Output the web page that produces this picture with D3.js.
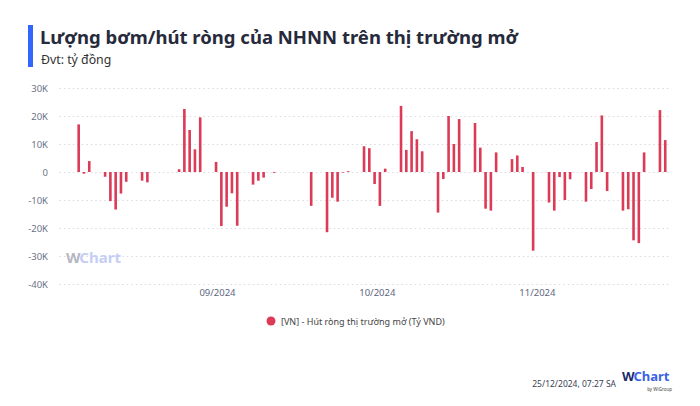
<!DOCTYPE html>
<html><head><meta charset="utf-8">
<script src="https://cdn.jsdelivr.net/npm/d3@7"></script>
<style>
html,body{margin:0;padding:0;background:#fff;}
svg{display:block;font-family:"Noto Sans","Open Sans",sans-serif;}
</style></head>
<body>
<svg id="chart" width="700" height="406"></svg>
<script>
// ---- data ----
const dates = [
"2024-09-04","2024-09-05","2024-09-06","2024-09-09","2024-09-10","2024-09-11","2024-09-12","2024-09-13",
"2024-09-16","2024-09-17","2024-09-23","2024-09-24","2024-09-25","2024-09-26","2024-09-27",
"2024-09-30","2024-10-01","2024-10-02","2024-10-03","2024-10-04","2024-10-07","2024-10-08","2024-10-09","2024-10-11",
"2024-10-18","2024-10-21","2024-10-22","2024-10-23","2024-10-24","2024-10-25",
"2024-10-28","2024-10-29","2024-10-30","2024-10-31","2024-11-01",
"2024-11-04","2024-11-05","2024-11-06","2024-11-07","2024-11-08",
"2024-11-11","2024-11-12","2024-11-13","2024-11-14","2024-11-15",
"2024-11-18","2024-11-19","2024-11-20","2024-11-21","2024-11-22",
"2024-11-25","2024-11-26","2024-11-27","2024-11-29",
"2024-12-02","2024-12-03","2024-12-04","2024-12-05","2024-12-06",
"2024-12-09","2024-12-10","2024-12-11","2024-12-12","2024-12-13",
"2024-12-16","2024-12-17","2024-12-18","2024-12-19","2024-12-20",
"2024-12-23","2024-12-24"];
const values = [
17000,-600,3900,-1700,-10400,-13400,-7700,-3500,
-3100,-3700,1000,22500,15000,8100,19500,
3600,-19300,-12400,-7600,-19200,-4500,-3100,-2000,-300,
-12100,-21500,-9200,-10600,-200,300,
9200,8500,-4300,-12100,1200,
23600,7900,14600,11700,7400,
-14500,-2500,20000,10000,18900,
17500,8700,-13100,-13800,7000,
4600,5900,1800,-28100,
-10900,-13800,-1800,-10000,-2600,
-10600,-6100,10700,20200,-6800,
-13800,-13300,-24400,-25400,7000,
22100,11400];
const yTicks = [30000,20000,10000,0,-10000,-20000,-30000,-40000];
const yTickLabels = ["30K","20K","10K","0","-10K","-20K","-30K","-40K"];
const xTickDates = ["2024-09-30T04:00Z","2024-10-30T10:00Z","2024-11-29T17:00Z"];
const xTickLabels = ["09/2024","10/2024","11/2024"];
const seriesName = "[VN] - Hút ròng thị trường mở (Tỷ VND)";
const title = "Lượng bơm/hút ròng của NHNN trên thị trường mở";
const subtitle = "Đvt: tỷ đồng";
const stamp = "25/12/2024, 07:27 SA";

// ---- layout ----
const svg = d3.select("#chart");
const color = "#db3b57";
const parse = s => new Date(s + (s.length===10 ? "T00:00:00Z" : ""));
const data = dates.map((d,i)=>({date:parse(d), value:values[i]}));

const x = d3.scaleUtc()
  .domain([new Date(Date.UTC(2024,7,31,8)), new Date(Date.UTC(2024,11,24,21,36))])
  .range([59.3, 670]);
const y = d3.scaleLinear().domain([-40000,30000]).range([284,88]);

// title block
svg.append("rect").attr("x",28).attr("y",25).attr("width",5).attr("height",42).attr("fill","#3366ff");
svg.append("text").attr("x",40).attr("y",44).attr("font-size",18.5).attr("font-weight",700)
  .attr("fill","#262a3b").text(title);
svg.append("text").attr("x",41).attr("y",64).attr("font-size",12.3).attr("fill","#333")
  .text(subtitle);

// grid + y axis
const yAxis = d3.axisLeft(y).tickValues(yTicks).tickSize(0).tickPadding(0)
  .tickFormat((d,i)=>yTickLabels[i]);
const gy = svg.append("g").attr("transform","translate(48,0)").call(yAxis);
gy.select(".domain").remove();
gy.selectAll("text").attr("font-size",9.5).attr("fill","#6b7385").attr("font-family","'Noto Sans',sans-serif");
svg.append("g").selectAll("line").data(yTicks).join("line")
  .attr("x1",59.3).attr("x2",670).attr("y1",d=>y(d)+0.5).attr("y2",d=>y(d)+0.5)
  .attr("stroke","#d8dbe0").attr("stroke-width",1).attr("stroke-dasharray","1.5,3");

// watermark
const wm = svg.append("text").attr("x",66).attr("y",263).attr("font-size",15).attr("font-weight",700);
wm.append("tspan").attr("fill","#b5b7c4").text("W");
wm.append("tspan").attr("fill","#c5cef5").attr("dx",-1).text("Chart");

// x axis
const xAxis = d3.axisBottom(x).tickValues(xTickDates.map(s=>new Date(s))).tickSize(0).tickPadding(0)
  .tickFormat((d,i)=>xTickLabels[i]);
const gx = svg.append("g").attr("transform","translate(0,287)").call(xAxis);
gx.select(".domain").remove();
gx.selectAll("text").attr("font-size",9.5).attr("fill","#5d6680").attr("dy","0.9em").attr("font-family","'Noto Sans',sans-serif");

// bars
const bw = 2.6;
svg.append("g").selectAll("rect").data(data).join("rect")
  .attr("x",d=>x(d.date)-bw/2)
  .attr("width",bw)
  .attr("y",d=>Math.min(y(d.value),y(0)))
  .attr("height",d=>Math.max(0.6,Math.abs(y(d.value)-y(0))))
  .attr("fill",color);

// legend
svg.append("circle").attr("cx",271).attr("cy",321).attr("r",4.5).attr("fill",color);
svg.append("text").attr("x",281).attr("y",324.5).attr("font-size",9).attr("fill","#444").text(seriesName);

// footer
svg.append("text").attr("x",616).attr("y",387).attr("text-anchor","end").attr("font-size",8.5)
  .attr("fill","#3a3f55").text(stamp);
const lg = svg.append("text").attr("x",622).attr("y",381).attr("font-size",13).attr("font-weight",700);
lg.append("tspan").attr("fill","#1b2a6b").text("W");
lg.append("tspan").attr("fill","#3a63e6").attr("dx",-1).text("Chart");
svg.append("text").attr("x",672).attr("y",391).attr("text-anchor","end").attr("font-size",4.5)
  .attr("fill","#444").text("by WiGroup");
</script>
</body></html>
